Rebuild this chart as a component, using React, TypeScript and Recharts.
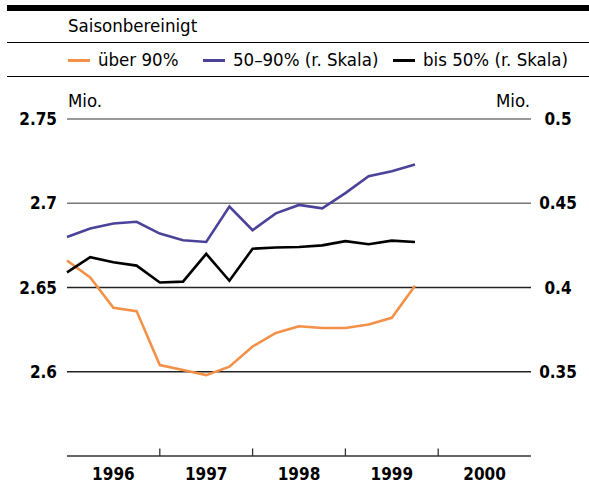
import { LineChart, Line, XAxis, YAxis, ReferenceLine } from "recharts";

const quarters = [
  "1996 Q1", "1996 Q2", "1996 Q3", "1996 Q4",
  "1997 Q1", "1997 Q2", "1997 Q3", "1997 Q4",
  "1998 Q1", "1998 Q2", "1998 Q3", "1998 Q4",
  "1999 Q1", "1999 Q2", "1999 Q3", "1999 Q4",
];
// left scale, Mio.
const ueber90 = [
  2.666, 2.656, 2.638, 2.636, 2.604, 2.601, 2.598, 2.603,
  2.615, 2.623, 2.627, 2.626, 2.626, 2.628, 2.632, 2.651,
];
// right scale, Mio.
const von50bis90 = [
  0.430, 0.435, 0.438, 0.439, 0.432, 0.428, 0.427, 0.448,
  0.434, 0.444, 0.449, 0.447, 0.456, 0.466, 0.469, 0.473,
];
const bis50 = [
  0.409, 0.418, 0.415, 0.413, 0.403, 0.4035, 0.420, 0.404,
  0.423, 0.4237, 0.424, 0.425, 0.4275, 0.4257, 0.4278, 0.427,
];
const years = [1996, 1997, 1998, 1999, 2000];
const leftTicks = [2.6, 2.65, 2.7, 2.75];
const rightTicks = [0.35, 0.4, 0.45, 0.5];

const series = [
  { key: "ueber90", name: "über 90%", color: "#f39149", axis: "left", left: 68 },
  { key: "von50bis90", name: "50–90% (r. Skala)", color: "#4b4399", axis: "right", left: 203 },
  { key: "bis50", name: "bis 50% (r. Skala)", color: "#000000", axis: "right", left: 393 },
];

const data = quarters.map((q, i) => ({
  t: Number(q.slice(0, 4)) + (Number(q.slice(-1)) - 1) / 4,
  ueber90: ueber90[i],
  von50bis90: von50bis90[i],
  bis50: bis50[i],
}));

const FONT = "'DejaVu Sans Condensed', 'DejaVu Sans', sans-serif";
const HEAD = 18.5;

const RightTick = (props: any) => {
  const { x, y, payload } = props;
  return (
    <text x={x} y={y} dy={6} textAnchor="middle" fontSize={17} fontWeight="bold" fill="#000" fontFamily={FONT}>
      {payload.value}
    </text>
  );
};

export default function App() {
  return (
    <div style={{ position: "absolute", left: 0, top: 0, width: 589, height: 484, background: "#fff", fontFamily: FONT, color: "#000" }}>
      <div style={{ position: "absolute", left: 7, right: 0, top: 5, height: 6, background: "#000" }} />
      <div style={{ position: "absolute", left: 68, top: 14, fontSize: HEAD, lineHeight: "24px" }}>Saisonbereinigt</div>
      <div style={{ position: "absolute", left: 7, right: 0, top: 42, height: 1.3, background: "#000" }} />
      {series.map((s) => (
        <div
          key={s.key}
          style={{ position: "absolute", left: s.left, top: 48, display: "flex", alignItems: "center", fontSize: HEAD, lineHeight: "24px", whiteSpace: "nowrap" }}
        >
          <span style={{ display: "inline-block", width: 22, height: 3, background: s.color, marginRight: 8 }} />
          {s.name}
        </div>
      ))}
      <div style={{ position: "absolute", left: 7, right: 0, top: 76, height: 1.3, background: "#000" }} />
      <div style={{ position: "absolute", left: 68, top: 89, fontSize: HEAD, lineHeight: "24px" }}>Mio.</div>
      <div style={{ position: "absolute", left: 496, top: 89, fontSize: HEAD, lineHeight: "24px" }}>Mio.</div>

      <div style={{ position: "absolute", left: 0, top: 0 }}>
        <LineChart width={589} height={484} data={data} margin={{ top: 119, right: 0, bottom: 0, left: 0 }}>
          <XAxis
            dataKey="t"
            type="number"
            domain={[1996, 2001]}
            ticks={years.map((y) => y + 0.5)}
            tickFormatter={(v: number) => String(Math.floor(v))}
            tickLine={false}
            tickSize={0}
            tickMargin={12}
            axisLine={{ stroke: "#333", strokeWidth: 1.5 }}
            height={28}
            tick={{ fontSize: 17, fontWeight: "bold", fill: "#000", fontFamily: FONT }}
          />
          <YAxis
            yAxisId="left"
            orientation="left"
            domain={[2.55, 2.75]}
            ticks={leftTicks}
            width={67}
            tickLine={false}
            axisLine={false}
            tickSize={0}
            tickMargin={10}
            tick={{ fontSize: 17, fontWeight: "bold", fill: "#000", fontFamily: FONT }}
          />
          <YAxis
            yAxisId="right"
            orientation="right"
            domain={[0.3, 0.5]}
            ticks={rightTicks}
            width={58}
            tickLine={false}
            axisLine={false}
            tickSize={0}
            tickMargin={27}
            tick={<RightTick />}
          />
          {leftTicks.map((v, i) => (
            <ReferenceLine key={v} yAxisId="left" y={v} stroke={i < 2 ? "#222" : "#777"} strokeWidth={1.3} />
          ))}
          {years.slice(1).map((y) => (
            <ReferenceLine
              key={y}
              yAxisId="left"
              segment={[{ x: y, y: 2.55 }, { x: y, y: 2.5545 }]}
              stroke="#333"
              strokeWidth={1.3}
            />
          ))}
          {series.map((s) => (
            <Line
              key={s.key}
              yAxisId={s.axis}
              type="linear"
              dataKey={s.key}
              name={s.name}
              stroke={s.color}
              strokeWidth={2.6}
              dot={false}
              isAnimationActive={false}
            />
          ))}
        </LineChart>
      </div>
    </div>
  );
}
